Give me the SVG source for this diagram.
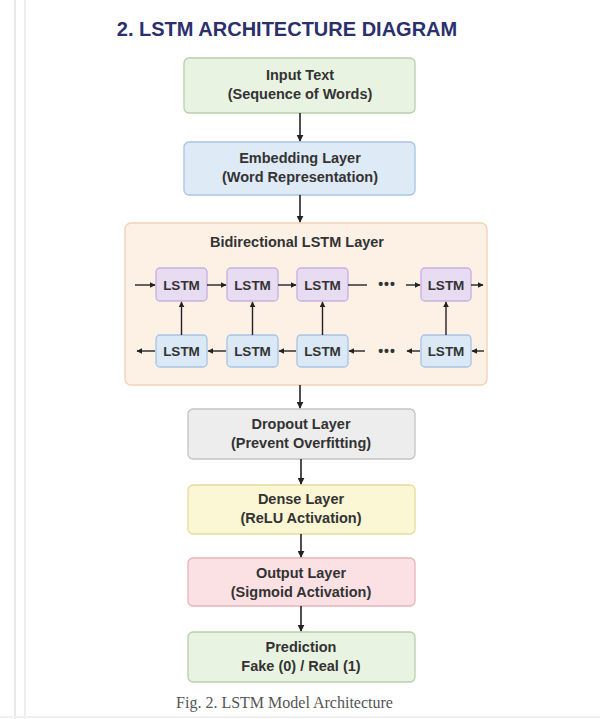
<svg xmlns="http://www.w3.org/2000/svg" width="600" height="719" viewBox="0 0 600 719">
<defs>
<marker id="ah" viewBox="0 0 10 10" refX="9" refY="5" markerWidth="7" markerHeight="7" markerUnits="userSpaceOnUse" orient="auto">
<path d="M0,0 L10,5 L0,10 z" fill="#222"/>
</marker>
<marker id="ahs" viewBox="0 0 10 10" refX="9" refY="5" markerWidth="6" markerHeight="6" markerUnits="userSpaceOnUse" orient="auto">
<path d="M0,0 L10,5 L0,10 z" fill="#222"/>
</marker>
</defs>
<style>
.t{font-family:"Liberation Sans",Arial,sans-serif;font-weight:bold;font-size:14.5px;fill:#333;text-anchor:middle}
.c{font-family:"Liberation Sans",Arial,sans-serif;font-weight:bold;font-size:13.5px;fill:#333;text-anchor:middle}
.box{stroke-width:1.3}
.green{fill:#e9f3e1;stroke:#b8cfa9}
.blue{fill:#dfeaf7;stroke:#a9c3e3}
.peach{fill:#fdf1e6;stroke:#efd3b8}
.purple{fill:#e8dcf3;stroke:#c6b0e0}
.cblue{fill:#dbe9f7;stroke:#a7c4e4}
.gray{fill:#ededed;stroke:#c4c4c4}
.yellow{fill:#fbf6d3;stroke:#e6dc9a}
.pink{fill:#fbe1e4;stroke:#e8b4bb}
.a{stroke:#222;stroke-width:1.6;fill:none;marker-end:url(#ah)}
.s{stroke:#222;stroke-width:1.4;fill:none;marker-end:url(#ahs)}
.l{stroke:#222;stroke-width:1.4;fill:none}
.dots{font-family:"Liberation Sans",Arial,sans-serif;font-weight:bold;font-size:14px;fill:#333;text-anchor:middle;letter-spacing:1px}
</style>
<rect width="600" height="719" fill="#ffffff"/>
<line x1="15" y1="0" x2="15" y2="719" stroke="#e8e8e8" stroke-width="2"/>
<line x1="25" y1="0" x2="25" y2="719" stroke="#eeeeee" stroke-width="2"/>
<line x1="0" y1="717" x2="600" y2="717" stroke="#f0f0f0" stroke-width="2"/>

<text x="287" y="36" font-family="Liberation Sans,Arial,sans-serif" font-weight="bold" font-size="20" fill="#2b2f6c" text-anchor="middle">2. LSTM ARCHITECTURE DIAGRAM</text>

<g id="input">
<rect class="box green" x="184" y="58" width="231" height="55" rx="5"/>
<text class="t" x="300" y="80">Input Text</text>
<text class="t" x="300" y="99">(Sequence of Words)</text>
</g>
<g id="embedding">
<rect class="box blue" x="184" y="142" width="231" height="53" rx="5"/>
<text class="t" x="300" y="163">Embedding Layer</text>
<text class="t" x="300" y="182">(Word Representation)</text>
</g>
<g id="bilstm">
<rect class="box peach" x="125" y="223" width="362" height="162" rx="6"/>
<text class="t" x="297" y="247">Bidirectional LSTM Layer</text>
</g>
<g id="f1"><rect class="box purple" x="156" y="268" width="51" height="33" rx="4"/><text class="c" x="181.5" y="289.5">LSTM</text></g>
<g id="f2"><rect class="box purple" x="227" y="268" width="51" height="33" rx="4"/><text class="c" x="252.5" y="289.5">LSTM</text></g>
<g id="f3"><rect class="box purple" x="297" y="268" width="51" height="33" rx="4"/><text class="c" x="322.5" y="289.5">LSTM</text></g>
<g id="f4"><rect class="box purple" x="421" y="268" width="50" height="33" rx="4"/><text class="c" x="446" y="289.5">LSTM</text></g>
<g id="b1"><rect class="box cblue" x="156" y="335" width="51" height="32" rx="4"/><text class="c" x="181.5" y="356">LSTM</text></g>
<g id="b2"><rect class="box cblue" x="227" y="335" width="51" height="32" rx="4"/><text class="c" x="252.5" y="356">LSTM</text></g>
<g id="b3"><rect class="box cblue" x="297" y="335" width="51" height="32" rx="4"/><text class="c" x="322.5" y="356">LSTM</text></g>
<g id="b4"><rect class="box cblue" x="421" y="335" width="50" height="32" rx="4"/><text class="c" x="446" y="356">LSTM</text></g>
<g id="dots">
<text class="dots" x="387" y="289">•••</text>
<text class="dots" x="387" y="356">•••</text>
</g>
<g id="dropout">
<rect class="box gray" x="188" y="409" width="227" height="50" rx="5"/>
<text class="t" x="301" y="429">Dropout Layer</text>
<text class="t" x="301" y="448">(Prevent Overfitting)</text>
</g>
<g id="dense">
<rect class="box yellow" x="188" y="485" width="227" height="49" rx="5"/>
<text class="t" x="301" y="504">Dense Layer</text>
<text class="t" x="301" y="523">(ReLU Activation)</text>
</g>
<g id="output">
<rect class="box pink" x="188" y="558" width="227" height="48" rx="5"/>
<text class="t" x="301" y="578">Output Layer</text>
<text class="t" x="301" y="597">(Sigmoid Activation)</text>
</g>
<g id="prediction">
<rect class="box green" x="188" y="632" width="227" height="50" rx="5"/>
<text class="t" x="301" y="652">Prediction</text>
<text class="t" x="301" y="671">Fake (0) / Real (1)</text>
</g>

<g id="connectors">
<line class="a" x1="300" y1="113" x2="300" y2="141"/>
<line class="a" x1="300" y1="195" x2="300" y2="222"/>
<line class="a" x1="300" y1="385" x2="300" y2="408"/>
<line class="a" x1="301" y1="459" x2="301" y2="484"/>
<line class="a" x1="301" y1="534" x2="301" y2="557"/>
<line class="a" x1="301" y1="606" x2="301" y2="631"/>
<!-- forward row -->
<line class="s" x1="135" y1="285" x2="155" y2="285"/>
<line class="s" x1="207" y1="285" x2="226" y2="285"/>
<line class="s" x1="278" y1="285" x2="296" y2="285"/>
<line class="l" x1="348" y1="285" x2="367" y2="285"/>
<line class="s" x1="406" y1="285" x2="420" y2="285"/>
<line class="s" x1="471" y1="285" x2="483" y2="285"/>
<!-- backward row -->
<line class="s" x1="155" y1="351" x2="137" y2="351"/>
<line class="s" x1="226" y1="351" x2="208" y2="351"/>
<line class="s" x1="296" y1="351" x2="279" y2="351"/>
<line class="s" x1="365" y1="351" x2="349" y2="351"/>
<line class="s" x1="420" y1="351" x2="407" y2="351"/>
<line class="s" x1="484" y1="351" x2="472" y2="351"/>
<!-- vertical -->
<line class="s" x1="181.5" y1="335" x2="181.5" y2="302"/>
<line class="s" x1="252.5" y1="335" x2="252.5" y2="302"/>
<line class="s" x1="322.5" y1="335" x2="322.5" y2="302"/>
<line class="s" x1="446" y1="335" x2="446" y2="302"/>
</g>

<text x="284.5" y="708" font-family="Liberation Serif,Times New Roman,serif" font-size="16" fill="#555" text-anchor="middle">Fig. 2. LSTM Model Architecture</text>
</svg>
